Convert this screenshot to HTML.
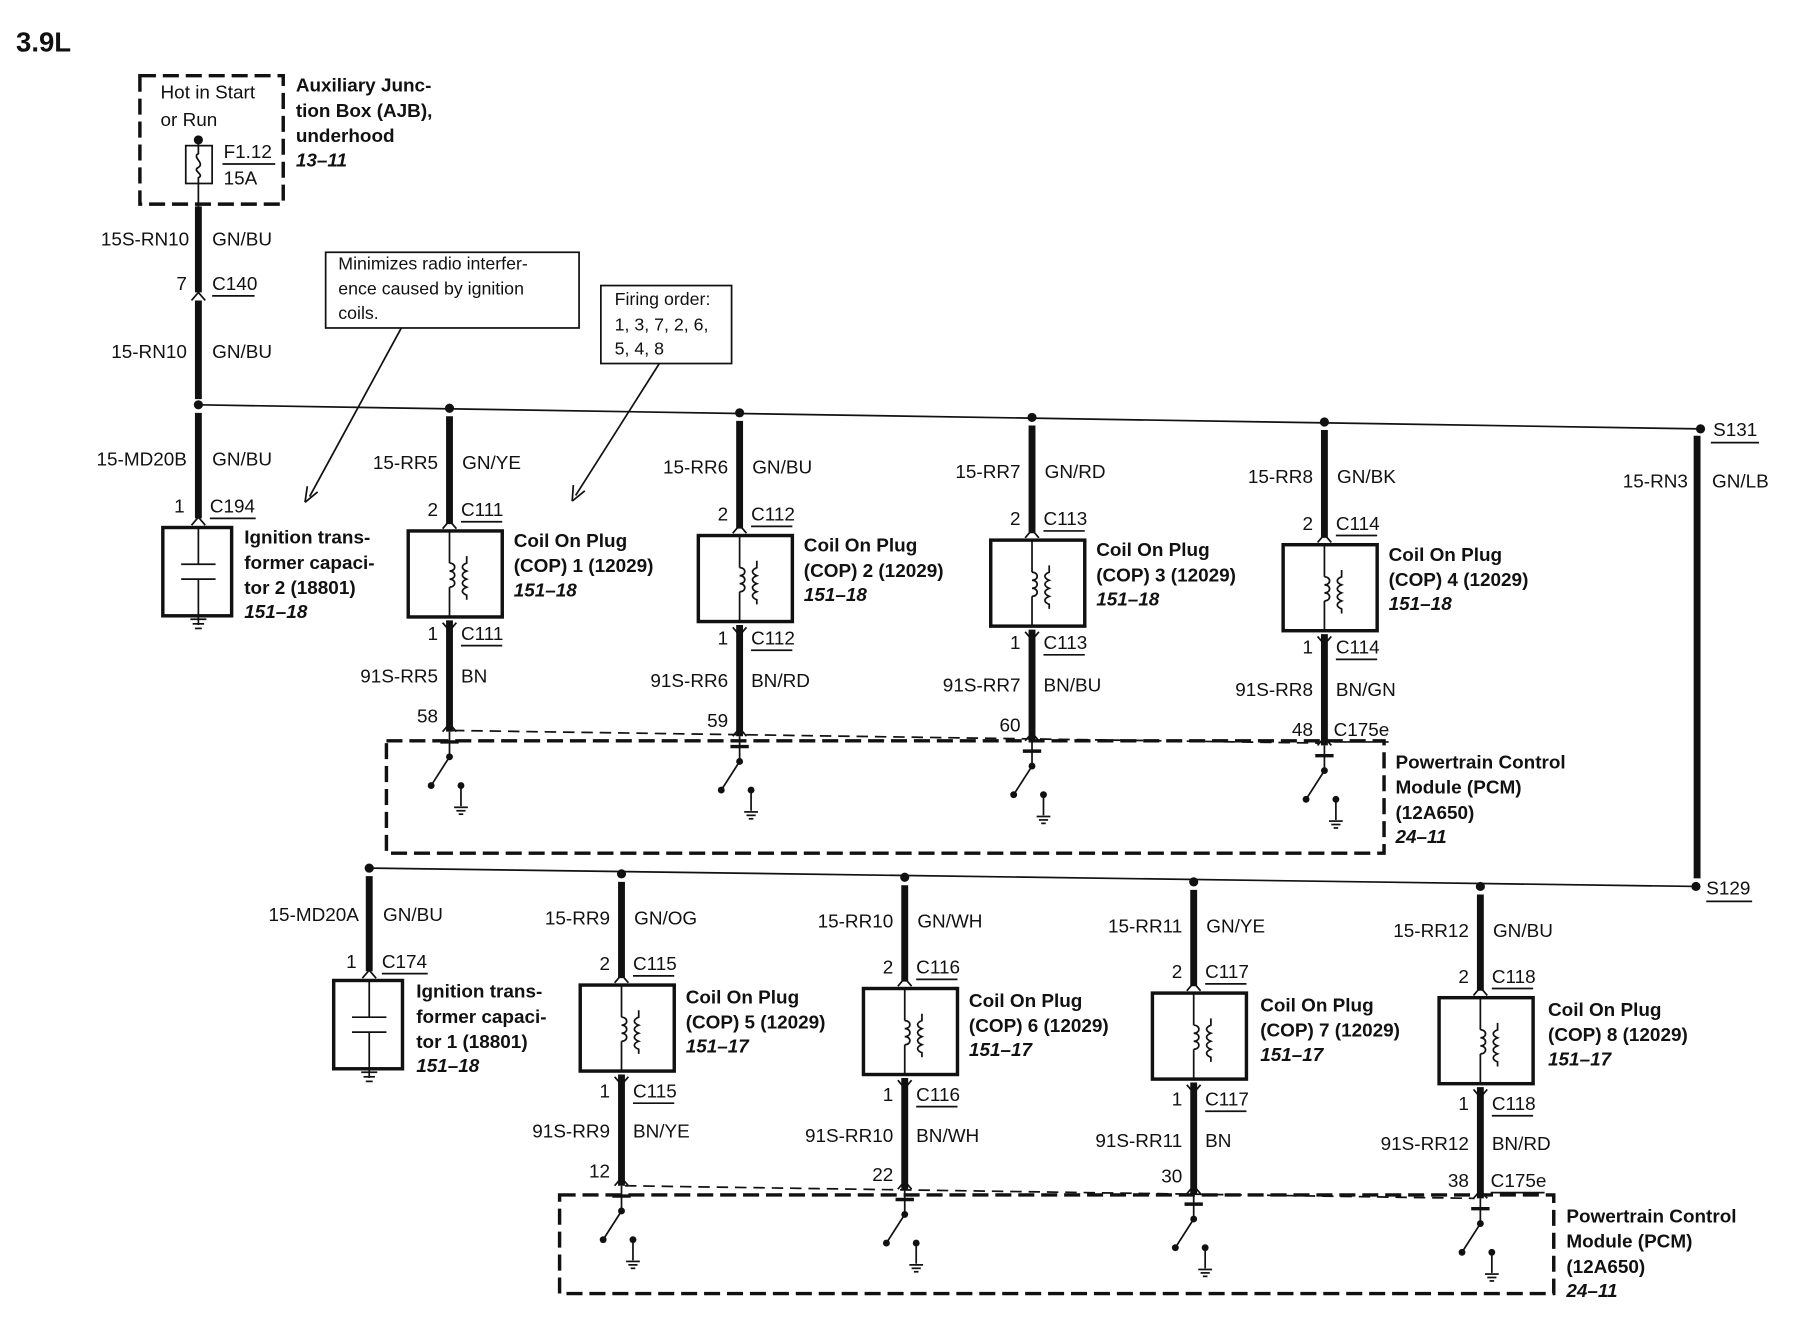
<!DOCTYPE html>
<html><head><meta charset="utf-8"><style>
html,body{margin:0;padding:0;background:#fff;}
svg{display:block;}
text{font-family:"Liberation Sans",Arial,sans-serif;font-size:16.5px;fill:#111;}
.b{font-weight:bold;}
.i{font-weight:bold;font-style:italic;}
.r{text-anchor:end;}
.w{stroke:#111;stroke-width:6;fill:none;}
.t{stroke:#111;stroke-width:1.5;fill:none;}
.d{stroke:#111;stroke-width:3;fill:none;stroke-dasharray:14 6;}
.c{font-size:15.5px;}
</style></head><body>
<svg width="1798" height="1344" viewBox="0 0 1568 1172" preserveAspectRatio="none" xmlns="http://www.w3.org/2000/svg">
<defs>
<g id="coil">
 <rect x="-36" y="0" width="82" height="75" stroke="#111" stroke-width="3" fill="#fff"/>
 <line x1="0" y1="0" x2="0" y2="28" class="t"/>
 <path d="M0,28 c6,0 6,7 0,7 c6,0 6,7 0,7 c6,0 6,7 0,7" class="t"/>
 <line x1="0" y1="49" x2="0" y2="75" class="t"/>
 <path d="M15,22 v6 c-5,2 -5,5 0,7 c-5,2 -5,5 0,7 c-5,2 -5,5 0,7 c-5,2 -5,5 0,7 v4" class="t"/>
 <path d="M-6,-2 L0,-9 L6,-2" class="t" stroke-width="2.5"/>
 <path d="M-6,80 L0,87 L6,80" class="t" stroke-width="2.5"/>
 <line x1="0" y1="78" x2="0" y2="175" class="w"/>
 <path d="M-6,175 L0,168 L6,175" class="t" stroke-width="2.5"/>
 <line x1="0" y1="175" x2="0" y2="197" class="t" stroke-width="2"/>
 <line x1="-8" y1="184" x2="8" y2="184" stroke="#111" stroke-width="3"/>
 <circle cx="0" cy="197" r="3" fill="#111"/>
 <line x1="0" y1="197" x2="-16" y2="222" class="t" stroke-width="2"/>
 <circle cx="-16" cy="222" r="3" fill="#111"/>
 <circle cx="10" cy="222" r="3" fill="#111"/>
 <line x1="10" y1="222" x2="10" y2="240" class="t" stroke-width="2"/>
 <line x1="4" y1="241" x2="16" y2="241" class="t"/>
 <line x1="6" y1="244" x2="14" y2="244" class="t"/>
 <line x1="8" y1="247" x2="12" y2="247" class="t"/>
</g>
<g id="cap">
 <rect x="-31" y="0" width="60" height="77" stroke="#111" stroke-width="3" fill="#fff"/>
 <line x1="0" y1="0" x2="0" y2="32" class="t" stroke-width="2"/>
 <line x1="-15" y1="32" x2="15" y2="32" class="t" stroke-width="2"/>
 <line x1="-15" y1="45" x2="15" y2="45" class="t" stroke-width="2"/>
 <line x1="0" y1="45" x2="0" y2="85" class="t" stroke-width="2"/>
 <path d="M-6,-2 L0,-9 L6,-2" class="t" stroke-width="2.5"/>
 <line x1="-7" y1="80" x2="7" y2="80" class="t"/>
 <line x1="-5" y1="84" x2="5" y2="84" class="t"/>
 <line x1="-3" y1="88" x2="3" y2="88" class="t"/>
</g>
</defs>

<text x="14" y="45" class="b" style="font-size:24px">3.9L</text>

<!-- AJB -->
<rect x="122" y="66" width="125" height="112" class="d"/>
<text x="140" y="86">Hot in Start</text>
<text x="140" y="110">or Run</text>
<circle cx="173" cy="122" r="4" fill="#111"/>
<rect x="162" y="127" width="23" height="33" class="t" stroke-width="2"/>
<path d="M173,122 v12 c-6,3 6,8 0,12 c-6,3 6,6 0,9 v25" class="t" stroke-width="2"/>
<text x="195" y="138">F1.12</text>
<line x1="194" y1="143" x2="240" y2="143" class="t"/>
<text x="195" y="161">15A</text>
<text x="258" y="80" class="b">Auxiliary Junc-</text>
<text x="258" y="102" class="b">tion Box (AJB),</text>
<text x="258" y="124" class="b">underhood</text>
<text x="258" y="145" class="i">13–11</text>

<line x1="173" y1="180" x2="173" y2="255" class="w"/>
<path d="M167,262 L173,255 L179,262" class="t" stroke-width="2.5"/>
<line x1="173" y1="262" x2="173" y2="348" class="w"/>
<text x="165" y="214" class="r">15S-RN10</text>
<text x="185" y="214">GN/BU</text>
<text x="163" y="253" class="r">7</text>
<text x="185" y="253">C140</text>
<line x1="185" y1="258" x2="222" y2="258" class="t"/>
<text x="163" y="312" class="r">15-RN10</text>
<text x="185" y="312">GN/BU</text>

<!-- callouts -->
<rect x="284" y="220" width="221" height="66" class="t"/>
<text x="295" y="235" class="c">Minimizes radio interfer-</text>
<text x="295" y="257" class="c">ence caused by ignition</text>
<text x="295" y="278" class="c">coils.</text>
<line x1="350" y1="286" x2="270" y2="433" class="t"/>
<path d="M266,438 L268,424 M266,438 L277,429" class="t" stroke-width="2"/>
<rect x="524" y="249" width="114" height="68" class="t"/>
<text x="536" y="266" class="c">Firing order:</text>
<text x="536" y="288" class="c">1, 3, 7, 2, 6,</text>
<text x="536" y="309" class="c">5, 4, 8</text>
<line x1="575" y1="317" x2="502" y2="432" class="t"/>
<path d="M499,437 L500,423 M499,437 L510,428" class="t" stroke-width="2"/>

<!-- top bus -->
<line x1="173" y1="353" x2="1483" y2="374" class="t"/>
<circle cx="173" cy="353" r="4" fill="#111"/>
<line x1="173" y1="360" x2="173" y2="452" class="w"/>
<text x="163" y="406" class="r">15-MD20B</text>
<text x="185" y="406">GN/BU</text>
<text x="161" y="447" class="r">1</text>
<text x="183" y="447">C194</text>
<line x1="183" y1="452" x2="223" y2="452" class="t"/>
<use href="#cap" x="173" y="460"/>
<text x="213" y="474" class="b">Ignition trans-</text>
<text x="213" y="496" class="b">former capaci-</text>
<text x="213" y="518" class="b">tor 2 (18801)</text>
<text x="213" y="539" class="i">151–18</text>

<!-- COP columns top -->
<g transform="translate(392,463)">
<circle cx="0" cy="-107" r="4" fill="#111"/><line x1="0" y1="-100" x2="0" y2="-6" class="w"/>
<use href="#coil"/>
<text x="-10" y="-54" class="r">15-RR5</text><text x="11" y="-54">GN/YE</text>
<text x="-10" y="-13" class="r">2</text><text x="10" y="-13">C111</text><line x1="10" y1="-8" x2="46" y2="-8" class="t"/>
<text x="-10" y="95" class="r">1</text><text x="10" y="95">C111</text><line x1="10" y1="100" x2="46" y2="100" class="t"/>
<text x="-10" y="132" class="r">91S-RR5</text><text x="10" y="132">BN</text>
<text x="-10" y="167" class="r">58</text>
<text x="56" y="14" class="b">Coil On Plug</text><text x="56" y="36" class="b">(COP) 1 (12029)</text><text x="56" y="57" class="i">151–18</text>
</g>
<g transform="translate(645,467)">
<circle cx="0" cy="-107" r="4" fill="#111"/><line x1="0" y1="-100" x2="0" y2="-6" class="w"/>
<use href="#coil"/>
<text x="-10" y="-54" class="r">15-RR6</text><text x="11" y="-54">GN/BU</text>
<text x="-10" y="-13" class="r">2</text><text x="10" y="-13">C112</text><line x1="10" y1="-8" x2="46" y2="-8" class="t"/>
<text x="-10" y="95" class="r">1</text><text x="10" y="95">C112</text><line x1="10" y1="100" x2="46" y2="100" class="t"/>
<text x="-10" y="132" class="r">91S-RR6</text><text x="10" y="132">BN/RD</text>
<text x="-10" y="167" class="r">59</text>
<text x="56" y="14" class="b">Coil On Plug</text><text x="56" y="36" class="b">(COP) 2 (12029)</text><text x="56" y="57" class="i">151–18</text>
</g>
<g transform="translate(900,471)">
<circle cx="0" cy="-107" r="4" fill="#111"/><line x1="0" y1="-100" x2="0" y2="-6" class="w"/>
<use href="#coil"/>
<text x="-10" y="-54" class="r">15-RR7</text><text x="11" y="-54">GN/RD</text>
<text x="-10" y="-13" class="r">2</text><text x="10" y="-13">C113</text><line x1="10" y1="-8" x2="46" y2="-8" class="t"/>
<text x="-10" y="95" class="r">1</text><text x="10" y="95">C113</text><line x1="10" y1="100" x2="46" y2="100" class="t"/>
<text x="-10" y="132" class="r">91S-RR7</text><text x="10" y="132">BN/BU</text>
<text x="-10" y="167" class="r">60</text>
<text x="56" y="14" class="b">Coil On Plug</text><text x="56" y="36" class="b">(COP) 3 (12029)</text><text x="56" y="57" class="i">151–18</text>
</g>
<g transform="translate(1155,475)">
<circle cx="0" cy="-107" r="4" fill="#111"/><line x1="0" y1="-100" x2="0" y2="-6" class="w"/>
<use href="#coil"/>
<text x="-10" y="-54" class="r">15-RR8</text><text x="11" y="-54">GN/BK</text>
<text x="-10" y="-13" class="r">2</text><text x="10" y="-13">C114</text><line x1="10" y1="-8" x2="46" y2="-8" class="t"/>
<text x="-10" y="95" class="r">1</text><text x="10" y="95">C114</text><line x1="10" y1="100" x2="46" y2="100" class="t"/>
<text x="-10" y="132" class="r">91S-RR8</text><text x="10" y="132">BN/GN</text>
<text x="-10" y="167" class="r">48</text><text x="8" y="167">C175e</text><line x1="8" y1="172" x2="56" y2="172" class="t"/>
<text x="56" y="14" class="b">Coil On Plug</text><text x="56" y="36" class="b">(COP) 4 (12029)</text><text x="56" y="57" class="i">151–18</text>
</g>
<line x1="395" y1="637" x2="1150" y2="648" class="t" stroke-dasharray="10 6"/>
<rect x="337" y="646" width="870" height="98" class="d"/>
<text x="1217" y="670" class="b">Powertrain Control</text>
<text x="1217" y="692" class="b">Module (PCM)</text>
<text x="1217" y="714" class="b">(12A650)</text>
<text x="1217" y="735" class="i">24–11</text>

<!-- S131 / S129 -->
<circle cx="1483" cy="374" r="4" fill="#111"/>
<text x="1494" y="380">S131</text><line x1="1492" y1="386" x2="1534" y2="386" class="t"/>
<line x1="1480" y1="380" x2="1480" y2="766" class="w"/>
<text x="1472" y="425" class="r">15-RN3</text><text x="1493" y="425">GN/LB</text>
<circle cx="1479" cy="773" r="4" fill="#111"/>
<text x="1488" y="780">S129</text><line x1="1488" y1="786" x2="1528" y2="786" class="t"/>

<!-- bottom bus -->
<line x1="322" y1="757" x2="1479" y2="773" class="t"/>
<circle cx="322" cy="757" r="4" fill="#111"/>
<line x1="322" y1="764" x2="322" y2="847" class="w"/>
<text x="313" y="803" class="r">15-MD20A</text><text x="334" y="803">GN/BU</text>
<text x="311" y="844" class="r">1</text><text x="333" y="844">C174</text><line x1="333" y1="849" x2="373" y2="849" class="t"/>
<use href="#cap" x="322" y="855"/>
<text x="363" y="870" class="b">Ignition trans-</text>
<text x="363" y="892" class="b">former capaci-</text>
<text x="363" y="914" class="b">tor 1 (18801)</text>
<text x="363" y="935" class="i">151–18</text>

<g transform="translate(542,859)">
<circle cx="0" cy="-97" r="4" fill="#111"/><line x1="0" y1="-90" x2="0" y2="-6" class="w"/>
<use href="#coil"/>
<text x="-10" y="-53" class="r">15-RR9</text><text x="11" y="-53">GN/OG</text>
<text x="-10" y="-13" class="r">2</text><text x="10" y="-13">C115</text><line x1="10" y1="-8" x2="46" y2="-8" class="t"/>
<text x="-10" y="98" class="r">1</text><text x="10" y="98">C115</text><line x1="10" y1="103" x2="46" y2="103" class="t"/>
<text x="-10" y="133" class="r">91S-RR9</text><text x="10" y="133">BN/YE</text>
<text x="-10" y="168" class="r">12</text>
<text x="56" y="16" class="b">Coil On Plug</text><text x="56" y="38" class="b">(COP) 5 (12029)</text><text x="56" y="59" class="i">151–17</text>
</g>
<g transform="translate(789,862)">
<circle cx="0" cy="-97" r="4" fill="#111"/><line x1="0" y1="-90" x2="0" y2="-6" class="w"/>
<use href="#coil"/>
<text x="-10" y="-53" class="r">15-RR10</text><text x="11" y="-53">GN/WH</text>
<text x="-10" y="-13" class="r">2</text><text x="10" y="-13">C116</text><line x1="10" y1="-8" x2="46" y2="-8" class="t"/>
<text x="-10" y="98" class="r">1</text><text x="10" y="98">C116</text><line x1="10" y1="103" x2="46" y2="103" class="t"/>
<text x="-10" y="134" class="r">91S-RR10</text><text x="10" y="134">BN/WH</text>
<text x="-10" y="168" class="r">22</text>
<text x="56" y="16" class="b">Coil On Plug</text><text x="56" y="38" class="b">(COP) 6 (12029)</text><text x="56" y="59" class="i">151–17</text>
</g>
<g transform="translate(1041,866)">
<circle cx="0" cy="-97" r="4" fill="#111"/><line x1="0" y1="-90" x2="0" y2="-6" class="w"/>
<use href="#coil"/>
<text x="-10" y="-53" class="r">15-RR11</text><text x="11" y="-53">GN/YE</text>
<text x="-10" y="-13" class="r">2</text><text x="10" y="-13">C117</text><line x1="10" y1="-8" x2="46" y2="-8" class="t"/>
<text x="-10" y="98" class="r">1</text><text x="10" y="98">C117</text><line x1="10" y1="103" x2="46" y2="103" class="t"/>
<text x="-10" y="134" class="r">91S-RR11</text><text x="10" y="134">BN</text>
<text x="-10" y="165" class="r">30</text>
<text x="58" y="16" class="b">Coil On Plug</text><text x="58" y="38" class="b">(COP) 7 (12029)</text><text x="58" y="59" class="i">151–17</text>
</g>
<g transform="translate(1291,870)">
<circle cx="0" cy="-97" r="4" fill="#111"/><line x1="0" y1="-90" x2="0" y2="-6" class="w"/>
<use href="#coil"/>
<text x="-10" y="-53" class="r">15-RR12</text><text x="11" y="-53">GN/BU</text>
<text x="-10" y="-13" class="r">2</text><text x="10" y="-13">C118</text><line x1="10" y1="-8" x2="46" y2="-8" class="t"/>
<text x="-10" y="98" class="r">1</text><text x="10" y="98">C118</text><line x1="10" y1="103" x2="46" y2="103" class="t"/>
<text x="-10" y="133" class="r">91S-RR12</text><text x="10" y="133">BN/RD</text>
<text x="-10" y="165" class="r">38</text><text x="9" y="165">C175e</text><line x1="9" y1="170" x2="56" y2="170" class="t"/>
<text x="59" y="16" class="b">Coil On Plug</text><text x="59" y="38" class="b">(COP) 8 (12029)</text><text x="59" y="59" class="i">151–17</text>
</g>
<line x1="545" y1="1034" x2="1286" y2="1045" class="t" stroke-dasharray="10 6"/>
<rect x="488" y="1042" width="867" height="86" class="d"/>
<text x="1366" y="1066" class="b">Powertrain Control</text>
<text x="1366" y="1088" class="b">Module (PCM)</text>
<text x="1366" y="1110" class="b">(12A650)</text>
<text x="1366" y="1131" class="i">24–11</text>
</svg>
</body></html>
